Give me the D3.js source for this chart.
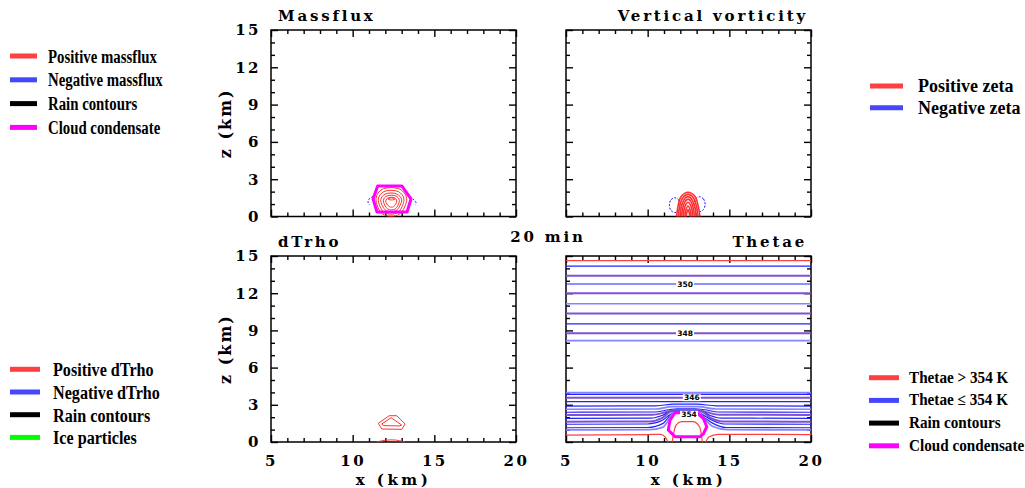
<!DOCTYPE html>
<html>
<head>
<meta charset="utf-8">
<script src="https://cdn.jsdelivr.net/npm/d3@7"></script>
<style>
body { margin: 0; background: #fff; }
</style>
</head>
<body>
<svg></svg>
<script>
var w = 1025, h = 488;

// ---------- data (x in km, z in km) ----------
var xTicks = [5, 10, 15, 20];
var xMinor = [6, 7, 8, 9, 11, 12, 13, 14, 16, 17, 18, 19];
var zTicks = [0, 3, 6, 9, 12, 15];
var zMinor = [1, 2, 4, 5, 7, 8, 10, 11, 13, 14];

var panelTitles = ["Massflux", "Vertical vorticity", "dTrho", "Thetae"];
var timeLabel = "20 min";

var massfluxLegend = ["Positive massflux", "Negative massflux", "Rain contours", "Cloud condensate"];
var zetaLegend = ["Positive zeta", "Negative zeta"];
var dtrhoLegend = ["Positive dTrho", "Negative dTrho", "Rain contours", "Ice particles"];
var thetaeLegend = ["Thetae > 354 K", "Thetae \u2264 354 K", "Rain contours", "Cloud condensate"];

// massflux: positive (closed), negative (dashed), cloud outline
var massfluxPos = [
    [[11.8, 2.19], [12.9, 2.19], [13.31, 1.45], [12.85, 0.18], [11.85, 0.18], [11.43, 1.45]],
    [[11.9, 2.0], [12.8, 2.0], [13.14, 1.4], [12.75, 0.31], [11.95, 0.31], [11.57, 1.4]],
    [[12.0, 1.81], [12.7, 1.81], [13.0, 1.35], [12.65, 0.47], [12.05, 0.47], [11.72, 1.35]],
    [[12.1, 1.65], [12.65, 1.65], [12.86, 1.3], [12.6, 0.6], [12.15, 0.6], [11.88, 1.3]],
    [[12.2, 1.51], [12.55, 1.51], [12.7, 1.25], [12.5, 0.79], [12.25, 0.79], [12.02, 1.25]],
    [[12.15, 1.41], [12.38, 1.49], [12.6, 1.41], [12.38, 1.33]]
];
var massfluxNeg = [
    [[11.25, 1.6], [11.0, 1.4], [10.94, 1.15], [11.05, 0.93]],
    [[13.5, 1.55], [13.75, 1.35], [13.88, 1.1], [13.8, 0.93]]
];
var massfluxCloud = [[11.53, 2.45], [13.02, 2.45], [13.57, 1.41], [13.33, 0.36], [11.49, 0.36], [11.25, 1.41]];

// vertical vorticity: positive (open at ground), negative (dashed)
var zetaPos = [
    [[11.78, 0], [11.85, 0.8], [12.05, 1.6], [12.47, 1.95], [12.9, 1.6], [13.1, 0.8], [13.2, 0]],
    [[11.88, 0], [11.95, 0.75], [12.12, 1.45], [12.47, 1.78], [12.82, 1.45], [13.0, 0.75], [13.08, 0]],
    [[11.98, 0], [12.05, 0.7], [12.2, 1.3], [12.47, 1.6], [12.74, 1.3], [12.9, 0.7], [12.96, 0]],
    [[12.08, 0], [12.14, 0.6], [12.27, 1.15], [12.47, 1.4], [12.67, 1.15], [12.8, 0.6], [12.86, 0]],
    [[12.18, 0], [12.23, 0.55], [12.33, 0.95], [12.47, 1.15], [12.61, 0.95], [12.71, 0.55], [12.76, 0]],
    [[12.28, 0], [12.32, 0.45], [12.47, 0.85], [12.62, 0.45], [12.66, 0]],
    [[12.36, 0], [12.4, 0.35], [12.47, 0.55], [12.54, 0.35], [12.58, 0]]
];
var zetaNeg = [
    [[11.66, 1.51], [11.9, 1.33], [11.99, 0.91], [11.9, 0.49], [11.66, 0.31], [11.42, 0.49], [11.33, 0.91], [11.42, 1.33]],
    [[13.18, 1.59], [13.42, 1.41], [13.52, 0.99], [13.42, 0.57], [13.18, 0.39], [12.94, 0.57], [12.84, 0.99], [12.94, 1.41]]
];

// dTrho: positive contours
var dtrhoClosed = [
    [[11.57, 1.51], [12.24, 2.12], [12.7, 2.12], [13.21, 1.45], [13.0, 1.02], [11.78, 1.05]],
    [[11.78, 1.45], [12.35, 1.96], [13.0, 1.37], [12.85, 1.3], [11.9, 1.32]]
];
var dtrhoOpen = [
    [[11.47, 0], [12.0, 0.14], [12.6, 0.16], [13.2, 0]]
];

// thetae contours: k = "hi" (> 354 K), "lo" / "mid" / "pale" (<= 354 K shades)
var thetaeLines = [
    {k: "hi", p: [[5, 14.62], [20, 14.62]]},
    {k: "lo", p: [[5, 14.19], [20, 14.19]]},
    {k: "mid", p: [[5, 13.41], [20, 13.41]]},
    {k: "lo", p: [[5, 12.74], [20, 12.74]]},
    {k: "mid", p: [[5, 11.99], [20, 11.99]]},
    {k: "pale", p: [[5, 11.15], [20, 11.15]]},
    {k: "mid", p: [[5, 10.36], [20, 10.36]]},
    {k: "lo", p: [[5, 9.52], [20, 9.52]]},
    {k: "mid", p: [[5, 8.77], [20, 8.77]]},
    {k: "pale", p: [[5, 8.17], [20, 8.17]]},
    {k: "pale", p: [[5, 3.98], [20, 3.98]]},
    {k: "lo", p: [[5, 3.84], [20, 3.84]]},
    {k: "mid", p: [[5, 3.57], [20, 3.57]]},
    {k: "lo", p: [[5, 3.25], [20, 3.25]]},
    {k: "lo", p: [[5, 2.9], [10.5, 2.92], [11.6, 3.05], [13.0, 3.05], [14.2, 2.92], [20, 2.9]]},
    {k: "pale", p: [[5, 2.64], [10.5, 2.66], [11.5, 2.85], [13.1, 2.85], [14.2, 2.66], [20, 2.64]]},
    {k: "lo", p: [[5, 2.4], [10.4, 2.42], [11.3, 2.6], [11.8, 2.68], [12.9, 2.68], [13.5, 2.6], [14.3, 2.42], [20, 2.4]]},
    {k: "mid", p: [[5, 2.18], [10.3, 2.2], [11.1, 2.4], [11.7, 2.58], [13.0, 2.58], [13.6, 2.4], [14.4, 2.2], [20, 2.18]]},
    {k: "lo", p: [[5, 1.91], [10.2, 1.93], [10.9, 2.15], [11.5, 2.5], [13.2, 2.5], [13.8, 2.15], [14.5, 1.93], [20, 1.91]]},
    {k: "mid", p: [[5, 1.64], [10.1, 1.66], [10.9, 1.95], [11.45, 2.45], [13.25, 2.45], [13.85, 1.95], [14.6, 1.66], [20, 1.64]]},
    {k: "lo", p: [[5, 1.43], [10.0, 1.45], [10.9, 1.75], [11.35, 2.2], [11.7, 2.42], [13.0, 2.42], [13.5, 2.1], [13.95, 1.75], [14.7, 1.45], [20, 1.43]]},
    {k: "lo", p: [[5, 1.15], [10.0, 1.17], [10.95, 1.5], [11.25, 1.95], [11.65, 2.4], [13.05, 2.4], [13.55, 1.9], [14.0, 1.5], [14.8, 1.17], [20, 1.15]]},
    {k: "pale", p: [[5, 0.97], [10.1, 0.99], [10.95, 1.2], [11.2, 1.6], [11.6, 2.38], [13.1, 2.38], [13.6, 1.7], [14.0, 1.25], [14.9, 0.99], [20, 0.97]]},
    {k: "hi", p: [[5, 0.55], [10.0, 0.6], [10.8, 0.62], [11.1, 0.35], [11.25, 0]]},
    {k: "hi", p: [[13.55, 0], [13.75, 0.4], [14.3, 0.62], [20, 0.6]]},
    {k: "hi", p: [[11.5, 0], [11.57, 0.56], [11.74, 1.37], [12.06, 1.64], [12.77, 1.64], [13.18, 1.23], [13.29, 0.56], [13.35, 0]]},
    {k: "hi", p: [[11.67, 0.43], [13.2, 0.43]]}
];
var thetaeLabels = [
    {t: "350", x: 12.29, z: 12.74},
    {t: "348", x: 12.29, z: 8.77},
    {t: "346", x: 12.7, z: 3.57},
    {t: "354", x: 12.53, z: 2.23}
];
var thetaeCloud = [[11.67, 2.36], [13.0, 2.36], [13.41, 1.91], [13.62, 1.23], [13.41, 0.65], [13.2, 0.43], [11.67, 0.43], [11.26, 0.97], [11.37, 1.77]];

// ---------- layout ----------
var svg = d3.select("svg").attr("width", w).attr("height", h);

var colL = d3.scaleLinear().domain([5, 20]).range([271, 516]);
var colR = d3.scaleLinear().domain([5, 20]).range([566, 811]);
var rowT = d3.scaleLinear().domain([0, 15]).range([216.5, 30]);
var rowB = d3.scaleLinear().domain([0, 15]).range([442, 256]);

var red = "#ff3030", blue = "#1010ff", magenta = "#ff00ff";
var shade = {hi: "#ff4040", lo: "#2323ff", mid: "#8052d2", pale: "#8585ff"};
var shadeW = {hi: 1.2, lo: 1.2, mid: 2, pale: 1.7};

var serif = "'DejaVu Serif', serif";

function frame(x, y, labelX, labelY) {
    var g = svg.append("g");
    var x0 = x.range()[0], x1 = x.range()[1], y0 = y.range()[1], y1 = y.range()[0];

    // [axis, translateY, translateX, ticks, size, labelled]
    var parts = [
        [d3.axisBottom(x), y1, 0, xMinor, -4, false],
        [d3.axisBottom(x), y1, 0, xTicks, -7, labelX],
        [d3.axisTop(x), y0, 0, xMinor, -4, false],
        [d3.axisTop(x), y0, 0, xTicks, -7, false],
        [d3.axisLeft(y), 0, x0, zMinor, -4, false],
        [d3.axisLeft(y), 0, x0, zTicks, -7, labelY],
        [d3.axisRight(y), 0, x1, zMinor, -4, false],
        [d3.axisRight(y), 0, x1, zTicks, -7, false]
    ];
    parts.forEach(function (p) {
        var a = p[0].tickValues(p[3]).tickSize(p[4]).tickSizeOuter(0)
            .tickFormat(p[5] ? d3.format("d") : "");
        if (p[5] && p[1]) a.tickPadding(13); else if (p[5]) a.tickPadding(10);
        var sel = g.append("g").attr("transform", "translate(" + p[2] + "," + p[1] + ")");
        sel.call(a);
        sel.select(".domain").remove();
        sel.selectAll(".tick line").attr("stroke", "#000").attr("stroke-width", 1.4);
        sel.selectAll(".tick text")
            .attr("font-family", serif).attr("font-weight", "bold")
            .attr("font-size", 15).attr("letter-spacing", 2.5).attr("fill", "#000");
    });
    g.append("rect")
        .attr("x", x0).attr("y", y0).attr("width", x1 - x0).attr("height", y1 - y0)
        .attr("fill", "none").attr("stroke", "#000").attr("stroke-width", 1.5);

    if (labelY) {
        g.append("text")
            .attr("transform", "translate(" + (x0 - 40) + "," + ((y0 + y1) / 2) + ") rotate(-90)")
            .attr("text-anchor", "middle")
            .attr("font-family", serif).attr("font-weight", "bold").attr("font-size", 16)
            .attr("letter-spacing", 2)
            .text("z (km)");
    }
    if (labelX) {
        g.append("text")
            .attr("x", (x0 + x1) / 2).attr("y", 484.5)
            .attr("text-anchor", "middle")
            .attr("font-family", serif).attr("font-weight", "bold").attr("font-size", 15)
            .attr("letter-spacing", 3.5)
            .text("x (km)");
    }
}

function title(txt, x, y, anchor) {
    svg.append("text")
        .attr("x", x).attr("y", y).attr("text-anchor", anchor)
        .attr("font-family", serif).attr("font-weight", "bold").attr("font-size", 15)
        .attr("letter-spacing", 2.8)
        .text(txt);
}

function drawLines(x, y, data, opts) {
    var line = d3.line().x(function (d) { return x(d[0]); }).y(function (d) { return y(d[1]); })
        .curve(opts.curve);
    svg.append("g").selectAll("path").data(data).enter().append("path")
        .attr("d", line)
        .attr("fill", "none")
        .attr("stroke", opts.color)
        .attr("stroke-width", opts.width)
        .attr("stroke-dasharray", opts.dash || null)
        .attr("stroke-linejoin", "round");
}

// ---------- panels ----------
// Massflux
frame(colL, rowT, false, true);
drawLines(colL, rowT, massfluxNeg, {curve: d3.curveCatmullRom, color: blue, width: 1, dash: "2,1.5"});
drawLines(colL, rowT, massfluxPos, {curve: d3.curveCatmullRomClosed, color: red, width: 1});
drawLines(colL, rowT, [massfluxCloud], {curve: d3.curveLinearClosed, color: magenta, width: 3});

// Vertical vorticity
frame(colR, rowT, false, false);
drawLines(colR, rowT, zetaNeg, {curve: d3.curveCatmullRomClosed, color: blue, width: 1, dash: "2,1.5"});
drawLines(colR, rowT, zetaPos, {curve: d3.curveCatmullRom, color: red, width: 1.6});

// dTrho
frame(colL, rowB, true, true);
drawLines(colL, rowB, dtrhoClosed, {curve: d3.curveLinearClosed, color: red, width: 1});
drawLines(colL, rowB, dtrhoOpen, {curve: d3.curveCatmullRom, color: red, width: 1});

// Thetae
frame(colR, rowB, true, false);
var tl = d3.line().x(function (d) { return colR(d[0]); }).y(function (d) { return rowB(d[1]); })
    .curve(d3.curveMonotoneX);
svg.append("g").selectAll("path").data(thetaeLines).enter().append("path")
    .attr("d", function (d) { return tl(d.p); })
    .attr("fill", "none")
    .attr("stroke", function (d) { return shade[d.k]; })
    .attr("stroke-width", function (d) { return shadeW[d.k]; });
drawLines(colR, rowB, [thetaeCloud], {curve: d3.curveLinearClosed, color: magenta, width: 3});
var lab = svg.append("g").selectAll("g").data(thetaeLabels).enter().append("g")
    .attr("transform", function (d) { return "translate(" + colR(d.x) + "," + rowB(d.z) + ")"; });
lab.append("rect").attr("x", -9).attr("y", -3.5).attr("width", 18).attr("height", 7).attr("fill", "#fff");
lab.append("text")
    .attr("text-anchor", "middle").attr("dy", "0.35em")
    .attr("font-family", "'DejaVu Sans', sans-serif").attr("font-weight", "bold").attr("font-size", 7.5)
    .text(function (d) { return d.t; });

// titles
title(panelTitles[0], 278, 21, "start");
title(panelTitles[1], 808, 21, "end");
title(panelTitles[2], 278, 246.7, "start");
title(panelTitles[3], 807, 246.7, "end");
title(timeLabel, 548, 241.7, "middle");

// ---------- legends ----------
function legend(items, colors, cfg) {
    var g = svg.append("g");
    items.forEach(function (t, i) {
        var y = cfg.y + i * cfg.dy;
        g.append("line")
            .attr("x1", cfg.x1).attr("x2", cfg.x2).attr("y1", y).attr("y2", y)
            .attr("stroke", colors[i]).attr("stroke-width", 5);
        g.append("text")
            .attr("transform", "translate(" + cfg.tx + "," + (y + cfg.base) + ") scale(" + cfg.sx + ",1)")
            .attr("font-family", "'Liberation Serif', 'Times New Roman', serif")
            .attr("font-weight", "bold").attr("font-size", cfg.fs)
            .text(t);
    });
}
var lred = "#ff4040", lblue = "#4646ff";
legend(massfluxLegend, [lred, lblue, "#000", magenta],
    {x1: 10, x2: 37, y: 56, dy: 23.8, tx: 48, base: 6.5, fs: 19, sx: 0.78});
legend(zetaLegend, [lred, lblue],
    {x1: 870, x2: 903, y: 86, dy: 21.8, tx: 918, base: 6, fs: 18, sx: 1});
legend(dtrhoLegend, [lred, lblue, "#000", "#00ff00"],
    {x1: 10, x2: 40, y: 369.3, dy: 22.7, tx: 53, base: 7, fs: 19, sx: 0.85});
legend(thetaeLegend, [lred, lblue, "#000", magenta],
    {x1: 869, x2: 899, y: 377.7, dy: 22.7, tx: 909, base: 5, fs: 16, sx: 0.95});
</script>
</body>
</html>
